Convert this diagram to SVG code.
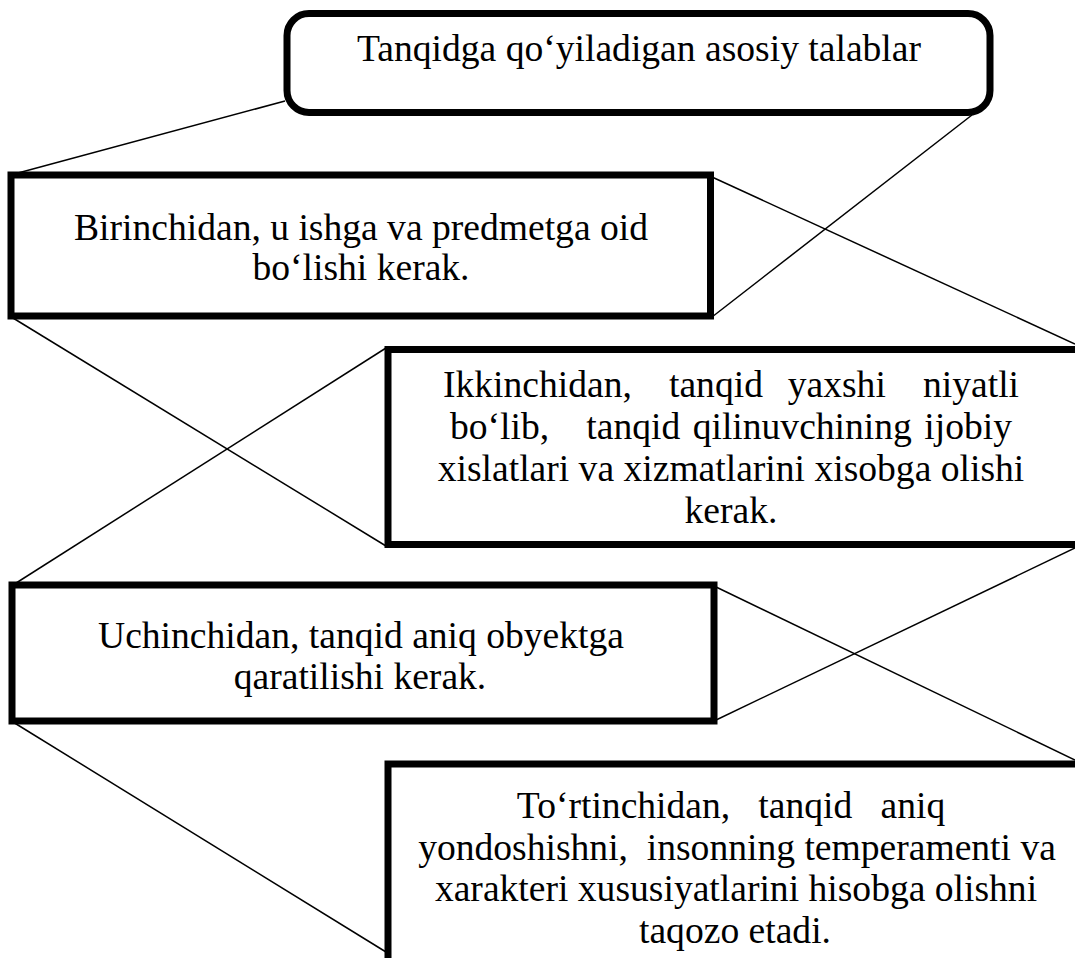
<svg xmlns="http://www.w3.org/2000/svg" width="1075" height="958" viewBox="0 0 1075 958">
<style>
.box{fill:#fff;stroke:#000;stroke-width:7}
.ln{stroke:#000;stroke-width:1.5;fill:none}
.t{font-family:"Liberation Serif","Times New Roman",serif;font-size:37.6px;fill:#000;text-anchor:middle;white-space:pre}
.j{word-spacing:3px}
</style>
<rect width="1075" height="958" fill="#fff"/>
<g id="connectors">
<line class="ln" x1="285" y1="101" x2="18" y2="173"/>
<line class="ln" x1="972" y1="115" x2="712" y2="317"/>
<line class="ln" x1="712" y1="177" x2="1075" y2="344"/>
<line class="ln" x1="13" y1="318" x2="386" y2="546"/>
<line class="ln" x1="386" y1="348" x2="13" y2="585"/>
<line class="ln" x1="1075" y1="548" x2="714" y2="721"/>
<line class="ln" x1="714" y1="586" x2="1075" y2="760"/>
<line class="ln" x1="13" y1="722" x2="386" y2="952"/>
</g>
<g id="n0">
<rect class="box" x="287" y="13.5" width="703" height="99" rx="22"/>
<text class="t" x="639" y="61">Tanqidga qo‘yiladigan asosiy talablar</text>
</g>
<g id="n1">
<rect class="box" x="11" y="175" width="699.5" height="141"/>
<text class="t" x="361" y="240">Birinchidan, u ishga va predmetga oid</text>
<text class="t" x="361" y="280">bo‘lishi kerak.</text>
</g>
<g id="n2">
<rect class="box" x="388" y="349.5" width="700" height="195"/>
<text class="t j" x="731" y="397" xml:space="preserve">Ikkinchidan,   tanqid  yaxshi   niyatli</text>
<text class="t j" x="731" y="439" xml:space="preserve">bo‘lib,   tanqid qilinuvchining ijobiy</text>
<text class="t" x="731" y="481">xislatlari va xizmatlarini xisobga olishi</text>
<text class="t" x="731" y="523">kerak.</text>
</g>
<g id="n3">
<rect class="box" x="12" y="585" width="702" height="136"/>
<text class="t" x="361" y="648">Uchinchidan, tanqid aniq obyektga</text>
<text class="t" x="360" y="689">qaratilishi kerak.</text>
</g>
<g id="n4">
<rect class="box" x="388" y="764" width="700" height="200"/>
<text class="t" x="731" y="818" xml:space="preserve">To‘rtinchidan,   tanqid   aniq</text>
<text class="t" x="737" y="860" xml:space="preserve">yondoshishni,  insonning temperamenti va</text>
<text class="t" x="736" y="901">xarakteri xususiyatlarini hisobga olishni</text>
<text class="t" x="735" y="943">taqozo etadi.</text>
</g>
</svg>
